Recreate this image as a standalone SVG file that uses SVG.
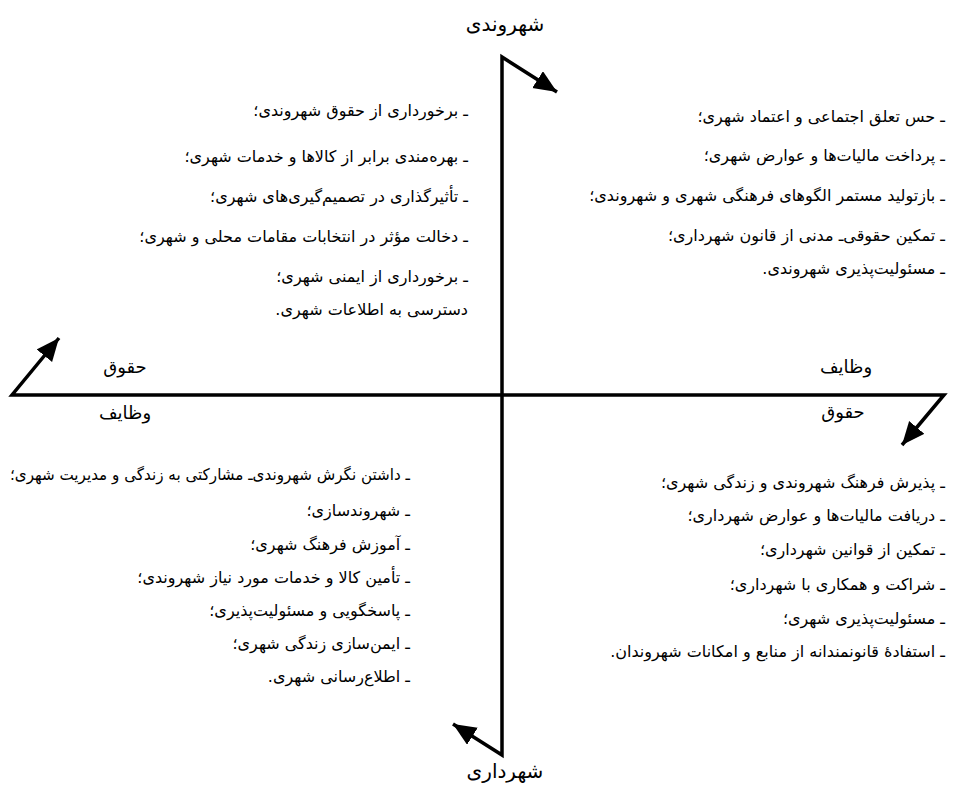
<svg xmlns="http://www.w3.org/2000/svg" width="963" height="785" viewBox="0 0 963 785">
<style>
text{font-family:"DejaVu Sans","Noto Sans",sans-serif;fill:#000;direction:rtl;unicode-bidi:embed}
.it{font-size:16px;text-anchor:start}
.lbl{font-size:18px;text-anchor:middle}
.ttl{font-size:20px;text-anchor:middle}
.ax{fill:none;stroke:#000;stroke-width:3.5;stroke-linejoin:miter;marker-end:url(#ah)}
</style>
<defs>
<marker id="ah" markerUnits="userSpaceOnUse" markerWidth="26" markerHeight="22" refX="23" refY="10" orient="auto">
<path d="M0,0 L23,10 L0,20 Z" fill="#000"/>
</marker>
</defs>
<rect width="963" height="785" fill="#fff"/>
<g id="connectors">
<path class="ax" d="M502,395 V57 L557,92"/>
<path class="ax" d="M502,395 V755 L453,724"/>
<path class="ax" d="M502,395 H12 L59,338"/>
<path class="ax" d="M502,395 H944 L902,445"/>
</g>
<g id="n-citizen"><text class="ttl" x="505" y="31">شهروندی</text></g>
<g id="n-municipality"><text class="ttl" x="505" y="778">شهرداری</text></g>
<g id="n-left-rights"><text class="lbl" x="125" y="373">حقوق</text></g>
<g id="n-left-duties"><text class="lbl" x="125" y="419">وظایف</text></g>
<g id="n-right-duties"><text class="lbl" x="846" y="373">وظایف</text></g>
<g id="n-right-rights"><text class="lbl" x="843" y="418">حقوق</text></g>
<g id="n-top-left">
<text class="it" x="468" y="116">ـ برخورداری  از حقوق شهروندی؛</text>
<text class="it" x="468" y="162">ـ بهره‌مندی برابر از کالاها و خدمات شهری؛</text>
<text class="it" x="468" y="202">ـ تأثیرگذاری در تصمیم‌گیری‌های  شهری؛</text>
<text class="it" x="468" y="242">ـ دخالت مؤثر در انتخابات مقامات محلی و شهری؛</text>
<text class="it" x="468" y="282">ـ برخورداری  از ایمنی شهری؛</text>
<text class="it" x="468" y="315">دسترسی  به اطلاعات شهری.</text>
</g>
<g id="n-top-right">
<text class="it" x="945" y="122">ـ حس تعلق اجتماعی و اعتماد شهری؛</text>
<text class="it" x="945" y="161">ـ پرداخت مالیات‌ها و عوارض شهری؛</text>
<text class="it" x="945" y="201">ـ بازتولید مستمر الگوهای فرهنگی شهری و شهروندی؛</text>
<text class="it" x="945" y="241">ـ تمکین حقوقی‌ـ مدنی از قانون شهرداری؛</text>
<text class="it" x="945" y="274">ـ مسئولیت‌پذیری شهروندی.</text>
</g>
<g id="n-bottom-left">
<text class="it" x="410" y="480" textLength="400" lengthAdjust="spacingAndGlyphs">ـ داشتن نگرش شهروندی‌ـ مشارکتی به زندگی و مدیریت شهری؛</text>
<text class="it" x="410" y="516">ـ شهروندسازی؛</text>
<text class="it" x="410" y="550">ـ آموزش فرهنگ شهری؛</text>
<text class="it" x="410" y="583">ـ تأمین کالا و خدمات مورد نیاز شهروندی؛</text>
<text class="it" x="410" y="616">ـ پاسخگویی و مسئولیت‌پذیری؛</text>
<text class="it" x="410" y="649">ـ ایمن‌سازی زندگی شهری؛</text>
<text class="it" x="410" y="682">ـ اطلاع‌رسانی شهری.</text>
</g>
<g id="n-bottom-right">
<text class="it" x="945" y="488">ـ پذیرش فرهنگ شهروندی  و زندگی شهری؛</text>
<text class="it" x="945" y="521">ـ دریافت مالیات‌ها و عوارض شهرداری؛</text>
<text class="it" x="945" y="555">ـ تمکین از قوانین شهرداری؛</text>
<text class="it" x="945" y="590">ـ شراکت و همکاری با شهرداری؛</text>
<text class="it" x="945" y="624">ـ مسئولیت‌پذیری شهری؛</text>
<text class="it" x="945" y="657">ـ استفادهٔ قانونمندانه از منابع و امکانات شهروندان.</text>
</g>
</svg>
